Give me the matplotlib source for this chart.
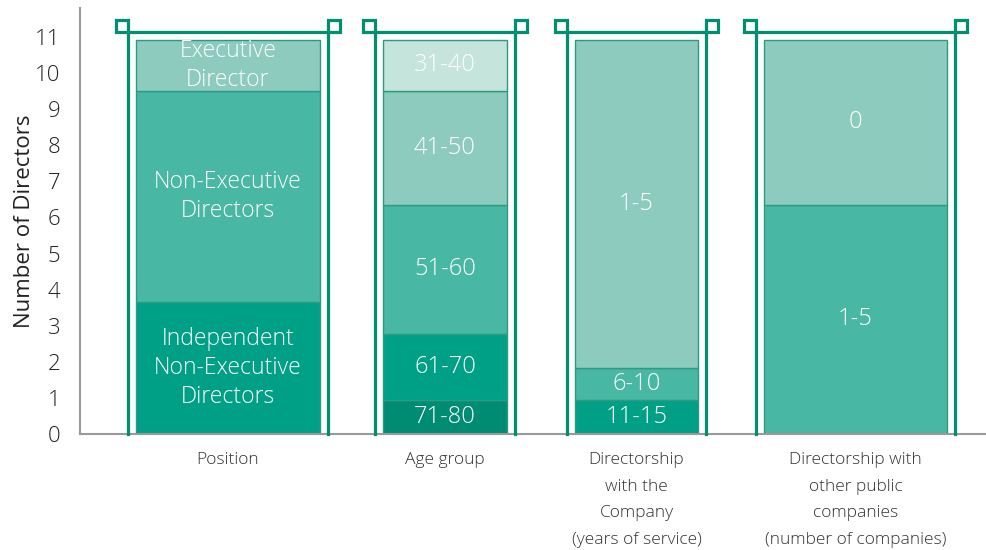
import numpy as np
import matplotlib.pyplot as plt
from matplotlib.patches import Rectangle

plt.rcParams['font.family'] = ['Open Sans', 'DejaVu Sans']
plt.rcParams['font.weight'] = 'light'

# board composition, one stacked column per breakdown (bottom segment first)
groups = ['Position', 'Age group',
          'Directorship\nwith the\nCompany\n(years of service)',
          'Directorship with\nother public\ncompanies\n(number of companies)']

position_labels = ['Independent\nNon-Executive\nDirectors', 'Non-Executive\nDirectors', 'Executive\nDirector']
position_values = [3.65, 5.85, 1.43]

age_labels = ['71-80', '61-70', '51-60', '41-50', '31-40']
age_values = [0.94, 1.83, 3.58, 3.15, 1.43]

service_labels = ['11-15', '6-10', '1-5']
service_values = [0.94, 0.89, 9.10]

other_labels = ['1-5', '0']
other_values = [6.35, 4.58]

# colours
c_darker = '#008C72'
c_dark = '#00A086'
c_mid = '#48B7A3'
c_light = '#8DCBBE'
c_lightest = '#C4E4DC'
c_frame = '#00906F'

stacks = [
    (position_labels, position_values, [c_dark, c_mid, c_light], 16.5),
    (age_labels, age_values, [c_darker, c_dark, c_mid, c_light, c_lightest], 17),
    (service_labels, service_values, [c_dark, c_mid, c_light], 17),
    (other_labels, other_values, [c_mid, c_light], 17),
]

# column geometry in pixel-like x units
centers = [228, 445, 636.5, 855.5]
widths = [184, 124, 123, 183]
pad = 8
frame_top = 11.14
sq = 12

fig = plt.figure(figsize=(9.87, 5.5), dpi=100)
ax = fig.add_axes([80 / 987, 116 / 550, 907 / 987, 11.8 * 36.09 / 550])
ax.set_xlim(80, 987)
ax.set_ylim(0, 11.8)

for (labels, values, cols, fs), xc, w in zip(stacks, centers, widths):
    bottoms = np.concatenate([[0], np.cumsum(values)[:-1]])
    ax.bar(xc, values, width=w, bottom=bottoms, color=cols,
           edgecolor='#2A9C84', linewidth=1, zorder=2)
    for lab, v, b in zip(labels, values, bottoms):
        ax.text(xc, b + v / 2, lab, ha='center', va='center', color='white',
                fontsize=fs, linespacing=1.27, zorder=3)
    # open frame around the column with small squares at the top corners
    l, r = xc - w / 2 - pad, xc + w / 2 + pad
    ax.plot([l, l, r, r], [0, frame_top, frame_top, 0], color=c_frame,
            lw=2.3, zorder=4, clip_on=False, solid_joinstyle='miter')
    ax.add_patch(Rectangle((l - sq, frame_top), sq, sq / 36.09, facecolor='white',
                           edgecolor=c_frame, lw=2.3, zorder=5, clip_on=False))
    ax.add_patch(Rectangle((r, frame_top), sq, sq / 36.09, facecolor='white',
                           edgecolor=c_frame, lw=2.3, zorder=5, clip_on=False))

ax.set_yticks(range(12))
ax.set_yticklabels([str(i) for i in range(12)], fontsize=16, color='#222222')
ax.set_xticks(centers)
ax.set_xticklabels(groups, fontsize=12.5, color='#333333', linespacing=1.89)
ax.tick_params(axis='y', length=0, pad=14)
ax.tick_params(axis='x', length=0, pad=13)
ax.set_ylabel('Number of Directors', fontsize=16, color='#222222', labelpad=0)

for side in ['top', 'right']:
    ax.spines[side].set_visible(False)
for side in ['left', 'bottom']:
    ax.spines[side].set_color('#999999')
    ax.spines[side].set_linewidth(1.5)

fig.savefig('out.png', dpi=100)
